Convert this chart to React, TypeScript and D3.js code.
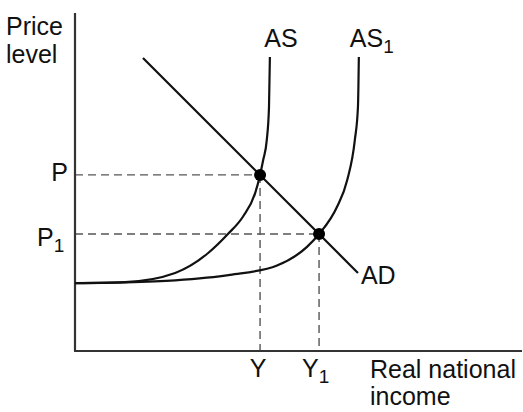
import React from "react";
import * as d3 from "d3";

// Data (x: real national income units 0-100, y: price level units 0-100)
const asCurve: [number, number][] = [
  [0, 20.1], [11.2, 20.4], [22.4, 23.1], [29.8, 29.0], [34.2, 34.6], [37.6, 39.8],
  [40.3, 46.7], [41.4, 52.1], [42.1, 56.5], [42.9, 62.4], [43.4, 72.2], [43.6, 87.0],
];
const as1Curve: [number, number][] = [
  [0, 20.1], [11.2, 20.3], [22.4, 20.9], [34.7, 22.5], [45.2, 25.3], [51.9, 30.8],
  [54.6, 34.6], [58.6, 42.6], [60.9, 50.6], [62.6, 62.4], [63.3, 72.2], [63.5, 87.0],
];
const adLine: [number, number][] = [[15.2, 86.7], [63.3, 23.1]];
const equilibria = [
  { name: "E", x: 41.4, y: 52.1, xLabel: "Y", yLabel: "P", sub: "" },
  { name: "E1", x: 54.6, y: 34.6, xLabel: "Y", yLabel: "P", sub: "1" },
];

const W = 523, H = 412;
const x = d3.scaleLinear().domain([0, 100]).range([75, 522]);
const y = d3.scaleLinear().domain([0, 100]).range([351, 13]);

const FONT = "'Liberation Sans', Arial, Helvetica, sans-serif";

export default function App() {
  const curveGen = d3
    .line<[number, number]>()
    .x((d) => x(d[0]))
    .y((d) => y(d[1]))
    .curve(d3.curveMonotoneX);
  const straight = d3
    .line<[number, number]>()
    .x((d) => x(d[0]))
    .y((d) => y(d[1]));

  const x0 = x(0), y0 = y(0);
  const asTop = asCurve[asCurve.length - 1];
  const as1Top = as1Curve[as1Curve.length - 1];
  const adEnd = adLine[1];

  return (
    <svg
      width={W}
      height={H}
      style={{ position: "absolute", left: 0, top: 0, background: "#fff" }}
      fontFamily={FONT}
    >
      <rect width={W} height={H} fill="#fff" />
      {/* dashed guides */}
      {equilibria.map((e) => (
        <g key={e.name} stroke="#555" strokeWidth={1.4} strokeDasharray="8,5" fill="none">
          <line x1={x0} x2={x(e.x)} y1={y(e.y)} y2={y(e.y)} />
          <line x1={x(e.x)} x2={x(e.x)} y1={y(e.y)} y2={y0} />
        </g>
      ))}
      {/* axes */}
      <line x1={x0} x2={x0} y1={y(100)} y2={y0} stroke="#333" strokeWidth={2.2} />
      <line x1={x0 - 1} x2={x(100)} y1={y0} y2={y0} stroke="#333" strokeWidth={2.2} />
      {/* curves */}
      <path d={curveGen(asCurve) ?? ""} fill="none" stroke="#111" strokeWidth={2.2} />
      <path d={curveGen(as1Curve) ?? ""} fill="none" stroke="#111" strokeWidth={2.2} />
      <path d={straight(adLine) ?? ""} fill="none" stroke="#111" strokeWidth={2.2} />
      {/* equilibrium dots */}
      {equilibria.map((e) => (
        <circle key={e.name + "c"} cx={x(e.x)} cy={y(e.y)} r={6} fill="#000" />
      ))}
      {/* axis titles */}
      <g fontSize={25} fill="#111">
        <text x={6} y={35}>Price</text>
        <text x={6} y={63}>level</text>
        <text x={370} y={378}>Real national</text>
        <text x={370} y={405}>income</text>
        {/* curve labels */}
        <text x={x(asTop[0]) + 11} y={47} textAnchor="middle">AS</text>
        <text x={x(as1Top[0]) - 9} y={47}>
          AS<tspan fontSize={19} dy={6}>1</tspan>
        </text>
        <text x={x(adEnd[0]) + 3} y={284}>AD</text>
        {/* equilibrium labels */}
        {equilibria.map((e) =>
          e.sub === "" ? (
            <g key={e.name + "l"}>
              <text x={x(e.x) - 2} y={377} textAnchor="middle">{e.xLabel}</text>
              <text x={68} y={y(e.y) + 6} textAnchor="end">{e.yLabel}</text>
            </g>
          ) : (
            <g key={e.name + "l"}>
              <text x={x(e.x) - 17} y={377}>
                {e.xLabel}<tspan fontSize={19} dy={6}>{e.sub}</tspan>
              </text>
              <text x={37} y={y(e.y) + 12}>
                {e.yLabel}<tspan fontSize={19} dy={6}>{e.sub}</tspan>
              </text>
            </g>
          )
        )}
      </g>
    </svg>
  );
}
